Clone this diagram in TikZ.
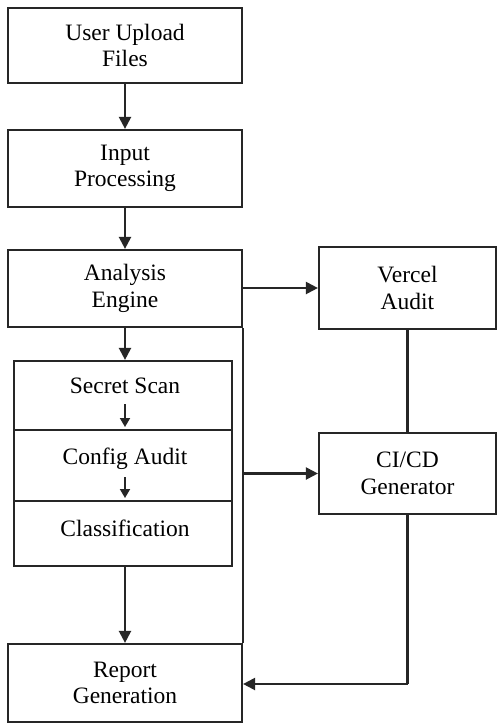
\documentclass[tikz,border=0pt]{standalone}
\usepackage{fontspec}
\setmainfont{Liberation Serif}
\usetikzlibrary{arrows.meta,positioning}

\tikzset{
  ink/.style={draw=black!85, line width=2.2pt},
  box/.style={ink, rectangle, fill=white, inner sep=0pt, align=center,
              font=\rmfamily\fontsize{23.5}{26.5}\selectfont},
  label/.style={inner sep=0pt, align=center, font=\rmfamily\fontsize{23.5}{26.5}\selectfont},
  flow/.style={ink, -{Triangle[length=12pt,width=12pt]}},
  subflow/.style={ink, line width=1.8pt, -{Triangle[length=9pt,width=10pt]}},
  link/.style={ink}
}

\begin{document}
\begin{tikzpicture}[x=1pt,y=-1pt]
  \useasboundingbox[fill=white] (0,0) rectangle (498,724);

  % main column
  \node[box, minimum width=234pt, minimum height=75pt] (upload) at (125,45.5) {User Upload\\Files};
  \node[box, minimum width=234pt, minimum height=77pt] (input) at (125,168.5) {Input\\Processing};
  \node[box, minimum width=234pt, minimum height=77pt] (engine) at (125,288.5) {Analysis\\Engine};

  % stacked analysis stages
  \node[ink, rectangle, inner sep=0pt, minimum width=218pt, minimum height=69pt] (secret) at (123,395.5) {};
  \node[ink, rectangle, inner sep=0pt, minimum width=218pt, minimum height=71pt] (config) at (123,465.5) {};
  \node[ink, rectangle, inner sep=0pt, minimum width=218pt, minimum height=65pt] (classif) at (123,533.5) {};
  \node[label] (secrett) at (125,386) {Secret Scan};
  \node[label] (configt) at (125,459) {Config Audit};
  \node[label] (classift) at (125,528) {Classification};

  \node[box, minimum width=234pt, minimum height=78pt] (report) at (125,683) {Report\\Generation};

  % right column
  \node[box, minimum width=177pt, minimum height=82pt] (vercel) at (407.5,288) {Vercel\\Audit};
  \node[box, minimum width=177pt, minimum height=81pt] (cicd) at (407.5,473.5) {CI/CD\\Generator};

  % main flow
  \draw[flow] (upload) -- (input);
  \draw[flow] (input) -- (engine);
  \draw[flow] (engine.south) -- (secret.north -| engine.south);
  \draw[flow] (classif.south -| report.north) -- (report.north);

  % arrows inside the stack
  \coordinate (s1) at (125,404);
  \coordinate (s1e) at (125,427);
  \coordinate (s2) at (125,477);
  \coordinate (s2e) at (125,498);
  \draw[subflow] (s1) -- (s1e);
  \draw[subflow] (s2) -- (s2e);

  % bus along the right side of the engine
  \draw[link] (engine.south east) -- (report.north east);
  \draw[flow] (engine.east |- vercel.west) -- (vercel.west);
  \draw[flow] (engine.east |- cicd.west) -- (cicd.west);

  % right column connectors
  \draw[link] (vercel.south) -- (cicd.north);
  \coordinate (ret) at (407.5,684);
  \draw[link] (cicd.south) -- (ret);
  \draw[flow] (ret) -- (ret -| report.east);
\end{tikzpicture}
\end{document}
